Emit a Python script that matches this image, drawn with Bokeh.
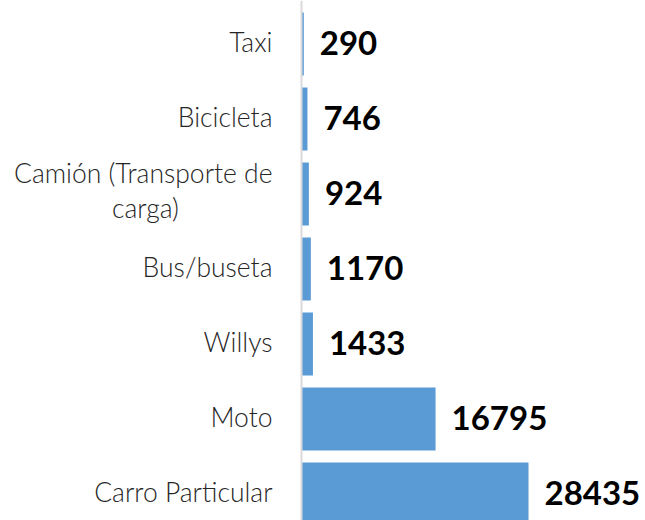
from bokeh.plotting import figure
from bokeh.models import ColumnDataSource, Range1d, Span
from bokeh.core.properties import value
from bokeh.embed import file_html
from bokeh.resources import INLINE

categories = ["Taxi", "Bicicleta", "Camión (Transporte de\ncarga)", "Bus/buseta",
              "Willys", "Moto", "Carro Particular"]
values = [290, 746, 924, 1170, 1433, 16795, 28435]

ypos = list(range(len(categories)))
labels = [str(v) for v in values]

W, H = 645, 520
px_per_unit = 227 / 28435
units_per_px = 1 / px_per_unit
zero_px = 301
x_start = -zero_px * units_per_px
x_end = (W - zero_px) * units_per_px

band = 75.0
top = -43.5 / band
bottom = top + H / band

CAT_FONT = value("Lato Light")
CAT_SIZE = "26.5px"

p = figure(width=W, height=H, output_backend="svg", toolbar_location=None,
           x_range=Range1d(x_start, x_end), y_range=Range1d(bottom, top),
           min_border=0)
p.xaxis.visible = False
p.yaxis.visible = False
p.xgrid.visible = False
p.ygrid.visible = False
p.outline_line_color = None
p.background_fill_color = "white"

src = ColumnDataSource(dict(y=ypos, v=values, lab=labels))
p.hbar(y="y", left=0, right="v", height=0.84, source=src,
       fill_color="#5b9bd5", line_color=None)

p.add_layout(Span(location=0, dimension="height", line_color="#d9d9d9", line_width=2))

p.text(x="v", y="y", text="lab", source=src, x_offset=16, y_offset=-1,
       text_font=value("Lato"), text_font_style="bold", text_font_size="33px",
       text_color="black", text_align="left", text_baseline="middle")

single_y, single_t = [], []
for yi, c in zip(ypos, categories):
    if "\n" in c:
        l1, l2 = c.split("\n")
        p.text(x=[0], y=[yi], text=[l1], x_offset=-29, y_offset=-21,
               text_font=CAT_FONT, text_font_size=CAT_SIZE, text_color="#262626",
               text_align="right", text_baseline="middle")
        p.text(x=[0], y=[yi], text=[l2], x_offset=-156, y_offset=14,
               text_font=CAT_FONT, text_font_size=CAT_SIZE, text_color="#262626",
               text_align="center", text_baseline="middle")
    else:
        single_y.append(yi)
        single_t.append(c)
p.text(x=[0] * len(single_y), y=single_y, text=single_t, x_offset=-29, y_offset=-2,
       text_font=CAT_FONT, text_font_size=CAT_SIZE, text_color="#262626",
       text_align="right", text_baseline="middle")

open("out.html", "w").write(file_html(p, INLINE))
